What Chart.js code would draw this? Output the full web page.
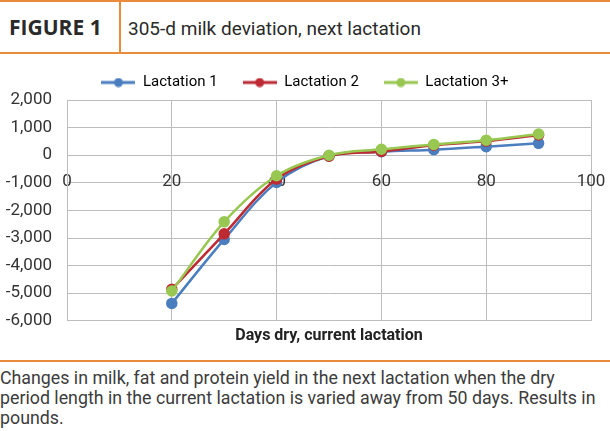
<!DOCTYPE html>
<html>
<head>
<meta charset="utf-8">
<script src="https://cdn.jsdelivr.net/npm/chart.js@4"></script>
<style>
    body { margin: 0; background: #fff; }
    #page { position: relative; width: 610px; height: 431px; overflow: hidden; background: #fff; }
    .rule { position: absolute; left: 0; width: 610px; height: 2px; background: #e88b3a; }
    #divider { position: absolute; left: 119px; top: 2px; width: 2px; height: 50px; background: #e88b3a; }
    #figLabel { position: absolute; left: 9px; top: 13px; font: 700 21px "Open Sans", sans-serif; color: #2a2a2a; }
    #figTitle { position: absolute; left: 128px; top: 17px; font: 19px Roboto, sans-serif; color: #2a2a2a; }
    #chartBox { position: absolute; left: 0; top: 47px; width: 610px; height: 313px; }
    #caption { position: absolute; left: 0; top: 368px; width: 610px; font: 17.8px Roboto, sans-serif; line-height: 20px; color: #3c3c3c; white-space: nowrap; }
</style>
</head>
<body>
<div id="page">
    <div class="rule" style="top:0"></div>
    <div id="divider"></div>
    <div id="figLabel">FIGURE 1</div>
    <div id="figTitle">305-d milk deviation, next lactation</div>
    <div class="rule" style="top:52px"></div>
    <div id="chartBox"><canvas id="milkChart" width="610" height="313"></canvas></div>
    <div class="rule" style="top:360px"></div>
    <div id="caption">Changes in milk, fat and protein yield in the next lactation when the dry<br>period length in the current lactation is varied away from 50 days. Results in<br>pounds.</div>
</div>
<script>
// Dias secos (eje X) y desviacion de leche en 305 d (libras)
const days = [20, 30, 40, 50, 60, 70, 80, 90];
const lactation1 = [-5370, -3050, -985, -30, 125, 200, 310, 430];
const lactation2 = [-4860, -2850, -865, -40, 135, 360, 510, 730];
const lactation3 = [-4920, -2415, -745, 0, 215, 390, 545, 770];

const seriesNames = ['Lactation 1', 'Lactation 2', 'Lactation 3+'];
const seriesColors = ['#4a7ebf', '#be2a33', '#98c852'];
const xTicks = [0, 20, 40, 60, 80, 100];
const yTicks = [2000, 1000, 0, -1000, -2000, -3000, -4000, -5000, -6000];

const font = 'Roboto, sans-serif';

// Icono de leyenda: linea con punto al centro
function legendIcon(color) {
    const c = document.createElement('canvas');
    c.width = 34;
    c.height = 10;
    const ctx = c.getContext('2d');
    ctx.strokeStyle = color;
    ctx.lineWidth = 3;
    ctx.beginPath();
    ctx.moveTo(0, 5);
    ctx.lineTo(34, 5);
    ctx.stroke();
    ctx.fillStyle = color;
    ctx.beginPath();
    ctx.arc(17, 5, 4.5, 0, Math.PI * 2);
    ctx.fill();
    return c;
}

function toPoints(values) {
    return values.map((v, i) => ({ x: days[i], y: v }));
}

const allSeries = [lactation1, lactation2, lactation3];

const datasets = allSeries.map((values, i) => ({
    label: seriesNames[i],
    data: toPoints(values),
    borderColor: seriesColors[i],
    backgroundColor: seriesColors[i],
    borderWidth: 2.5,
    pointRadius: 4.5,
    pointHoverRadius: 4.5,
    tension: 0.35,
    order: allSeries.length - i,
    xAxisID: 'x'
}));

const ctx = document.getElementById('milkChart').getContext('2d');

new Chart(ctx, {
    type: 'line',
    data: { datasets },
    options: {
        responsive: false,
        animation: false,
        layout: { padding: { left: 0, right: 0, top: 3, bottom: 11 } },
        plugins: {
            tooltip: { enabled: false },
            legend: {
                position: 'top',
                labels: {
                    usePointStyle: true,
                    pointStyleWidth: 34,
                    padding: 25,
                    color: '#333',
                    font: { family: font, size: 15 },
                    sort: (a, b) => a.datasetIndex - b.datasetIndex,
                    generateLabels: (chart) => chart.data.datasets.map((ds, i) => ({
                        text: ds.label,
                        pointStyle: legendIcon(seriesColors[i]),
                        fillStyle: seriesColors[i],
                        strokeStyle: seriesColors[i],
                        lineWidth: 0,
                        hidden: false,
                        datasetIndex: i
                    }))
                }
            }
        },
        scales: {
            x: {
                type: 'linear',
                position: 'bottom',
                min: xTicks[0],
                max: xTicks[xTicks.length - 1],
                afterBuildTicks: (scale) => { scale.ticks = xTicks.map(v => ({ value: v })); },
                grid: { color: '#bdbdbd', drawTicks: false },
                border: { color: '#bdbdbd' },
                ticks: { display: false },
                title: {
                    display: true,
                    text: 'Days dry, current lactation',
                    color: '#222',
                    font: { family: font, size: 16, weight: 'bold' },
                    padding: { top: 6, bottom: 3 }
                }
            },
            x2: {
                type: 'linear',
                axis: 'x',
                position: { y: 0 },
                min: xTicks[0],
                max: xTicks[xTicks.length - 1],
                afterBuildTicks: (scale) => { scale.ticks = xTicks.map(v => ({ value: v })); },
                afterFit: (scale) => {
                    scale.height = 0;
                    scale.paddingLeft = 0;
                    scale.paddingRight = 0;
                },
                grid: { display: false, drawTicks: false },
                border: { display: false },
                ticks: {
                    padding: 16,
                    color: '#333',
                    font: { family: font, size: 17 },
                    maxRotation: 0
                }
            },
            y: {
                min: yTicks[yTicks.length - 1],
                max: yTicks[0],
                afterBuildTicks: (scale) => { scale.ticks = yTicks.map(v => ({ value: v })); },
                afterFit: (scale) => { scale.width = 67; },
                grid: { color: '#bdbdbd', drawTicks: false },
                border: { color: '#bdbdbd' },
                ticks: {
                    padding: 15,
                    color: '#333',
                    font: { family: font, size: 17 },
                    callback: (v) => v.toLocaleString('en-US')
                }
            },
            // eje vacio a la derecha: solo reserva margen
            yRight: {
                type: 'linear',
                axis: 'y',
                position: 'right',
                min: yTicks[yTicks.length - 1],
                max: yTicks[0],
                afterFit: (scale) => { scale.width = 19; },
                grid: { display: false, drawTicks: false },
                border: { display: false },
                ticks: { display: false }
            }
        }
    }
});
</script>
</body>
</html>
